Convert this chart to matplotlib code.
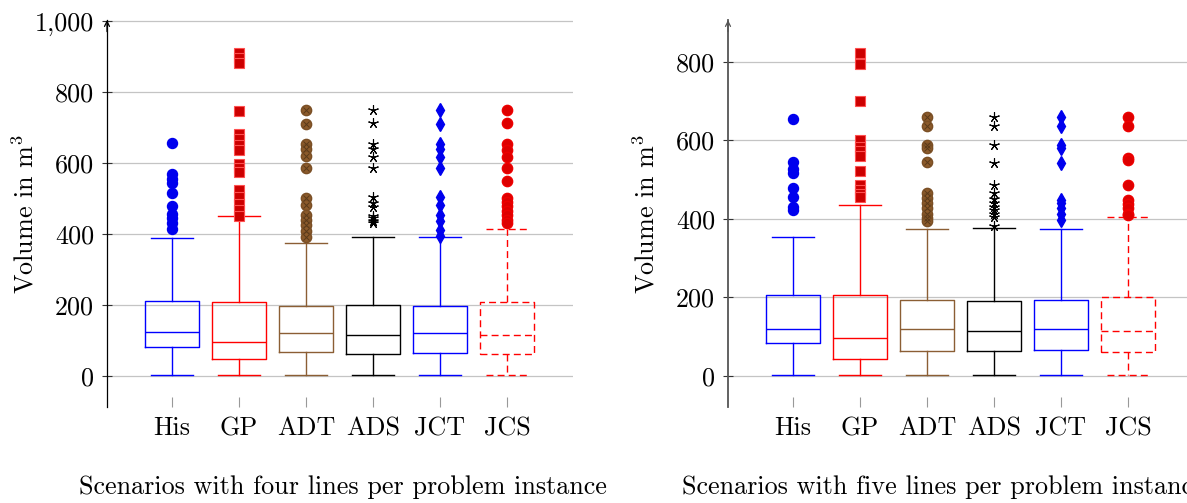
import matplotlib
matplotlib.use("Agg")
import matplotlib.pyplot as plt

plt.rcParams['font.family'] = ['cmr10', 'DejaVu Serif']
plt.rcParams['mathtext.fontset'] = 'cm'
plt.rcParams['axes.unicode_minus'] = False
FS = 18.8

categories = ["His", "GP", "ADT", "ADS", "JCT", "JCS"]

# four lines per problem instance: whislo, q1, median, q3, whishi
four_whislo = [2, 2, 2, 2, 2, 2]
four_q1 = [83, 48, 68, 63, 65, 62]
four_med = [123, 96, 122, 116, 122, 117]
four_q3 = [211, 209, 197, 199, 197, 208]
four_whishi = [388, 451, 376, 393, 393, 414]
four_fliers = [
    [656, 568, 555, 545, 515, 478, 456, 445, 430, 415],
    [909, 895, 881, 748, 683, 668, 650, 636, 598, 586, 575, 523, 504, 486, 467, 452],
    [750, 711, 655, 640, 620, 587, 503, 482, 455, 440, 425, 410, 393],
    [750, 712, 654, 640, 617, 587, 504, 488, 476, 452, 444, 437, 430],
    [750, 711, 654, 640, 617, 587, 504, 481, 453, 437, 411, 395],
    [750, 712, 654, 636, 617, 587, 550, 503, 490, 478, 466, 453, 441, 432],
]

# five lines per problem instance
five_whislo = [2, 2, 2, 2, 2, 2]
five_q1 = [83, 43, 63, 63, 65, 61]
five_med = [120, 96, 120, 115, 120, 115]
five_q3 = [207, 206, 193, 190, 194, 200]
five_whishi = [354, 436, 375, 377, 375, 406]
five_fliers = [
    [656, 545, 527, 517, 480, 457, 430, 422],
    [824, 794, 701, 601, 584, 572, 560, 523, 487, 474, 464, 455],
    [661, 638, 589, 580, 544, 466, 453, 440, 427, 414, 402, 395],
    [659, 638, 589, 542, 487, 465, 451, 440, 430, 423, 414, 404, 382],
    [661, 638, 589, 580, 542, 449, 440, 427, 414, 397],
    [661, 638, 555, 550, 487, 449, 438, 427, 414, 410],
]

four_ticks = [0, 200, 400, 600, 800, 1000]
four_ticklabels = ["0", "200", "400", "600", "800", "1,000"]
five_ticks = [0, 200, 400, 600, 800]
five_ticklabels = ["0", "200", "400", "600", "800"]

line_colors = ["#0000ff", "#ff0000", "#8b5e34", "#000000", "#0000ff", "#ff0000"]
line_styles = ["-", "-", "-", "-", "-", (0, (5, 3))]
flier_styles = [
    dict(marker="o", markerfacecolor="#0000ee", markeredgecolor="#0000ee", markersize=7.2),
    dict(marker="s", markerfacecolor="#cc0000", markeredgecolor="#ff5050", markersize=7.4, markeredgewidth=0.8),
    dict(marker="o", markerfacecolor="#8b5a2b", markeredgecolor="#7a4f25", markersize=7.4),
    dict(marker=(5, 2, 0), markerfacecolor="none", markeredgecolor="#000000", markersize=7.5, markeredgewidth=0.8),
    dict(marker="d", markerfacecolor="#0000ee", markeredgecolor="#0000ee", markersize=7.0),
    dict(marker="o", markerfacecolor="#dd0000", markeredgecolor="#ee0000", markersize=7.4),
]

W, H = 1187, 503
fig = plt.figure(figsize=(W / 100, H / 100), dpi=100)


def draw(rect, whislo, q1, med, q3, whishi, fliers, ticks, ticklabels, ylim, spine_color, spine_lw):
    ax = fig.add_axes(rect)
    positions = list(range(1, len(categories) + 1))
    for i, pos in enumerate(positions):
        stats = [dict(whislo=whislo[i], q1=q1[i], med=med[i], q3=q3[i],
                      whishi=whishi[i], fliers=[], label=categories[i])]
        c = line_colors[i]
        ls = line_styles[i]
        lp = dict(color=c, linewidth=1.0, linestyle=ls)
        ax.bxp(stats, positions=[pos], widths=0.8, capwidths=0.63, showfliers=False,
               boxprops=lp, whiskerprops=lp, capprops=lp, medianprops=lp,
               manage_ticks=False, zorder=3)
        fs = flier_styles[i]
        ax.plot([pos] * len(fliers[i]), fliers[i], linestyle="none", zorder=4, **fs)
        if i == 2:
            ax.plot([pos] * len(fliers[i]), fliers[i], linestyle="none", marker="x",
                    markersize=5.0, markeredgecolor="#5a3a1a", markeredgewidth=0.7, zorder=5)
    ax.set_xlim(0.03, 6.985)
    ax.set_ylim(*ylim)
    ax.set_xticks(positions)
    ax.set_xticklabels(categories, fontsize=FS)
    ax.set_yticks(ticks)
    ax.set_yticklabels(ticklabels, fontsize=FS)
    ax.yaxis.grid(True, color="#c4c4c4", linewidth=0.9)
    ax.set_axisbelow(True)
    for s in ["top", "right", "bottom"]:
        ax.spines[s].set_visible(False)
    ax.spines["left"].set_color(spine_color)
    ax.spines["left"].set_linewidth(spine_lw)
    ax.tick_params(axis="x", direction="in", length=7, width=0.8, color="#999999", pad=7)
    ax.tick_params(axis="y", direction="inout", length=6.5, width=0.8, color="#333333", pad=6)
    ax.annotate("", xy=(0, 1.0), xytext=(0, 0.97), xycoords="axes fraction",
                arrowprops=dict(arrowstyle="->", lw=0.9, color=spine_color, shrinkA=0, shrinkB=0,
                                mutation_scale=9))
    lab = ax.set_ylabel("Volume in m$^3$", fontsize=FS)
    ax.yaxis.set_label_coords(-0.176, 0.5)
    lab.set_verticalalignment("center")
    return ax


bottom = (H - 407) / H
height = 387 / H
width = 466 / W
ax1 = draw([107 / W, bottom, width, height], four_whislo, four_q1, four_med, four_q3,
           four_whishi, four_fliers, four_ticks, four_ticklabels, (-87, 1003), "#000000", 0.9)
ax2 = draw([728 / W, bottom, width, height], five_whislo, five_q1, five_med, five_q3,
           five_whishi, five_fliers, five_ticks, five_ticklabels, (-79, 907), "#555555", 1.3)

fig.text(79 / W, 1 - 487 / H, "Scenarios with four lines per problem instance",
         fontsize=FS, ha="left", va="center")
fig.text(682 / W, 1 - 487 / H, "Scenarios with five lines per problem instance",
         fontsize=FS, ha="left", va="center")

fig.savefig("out.png", dpi=100)
